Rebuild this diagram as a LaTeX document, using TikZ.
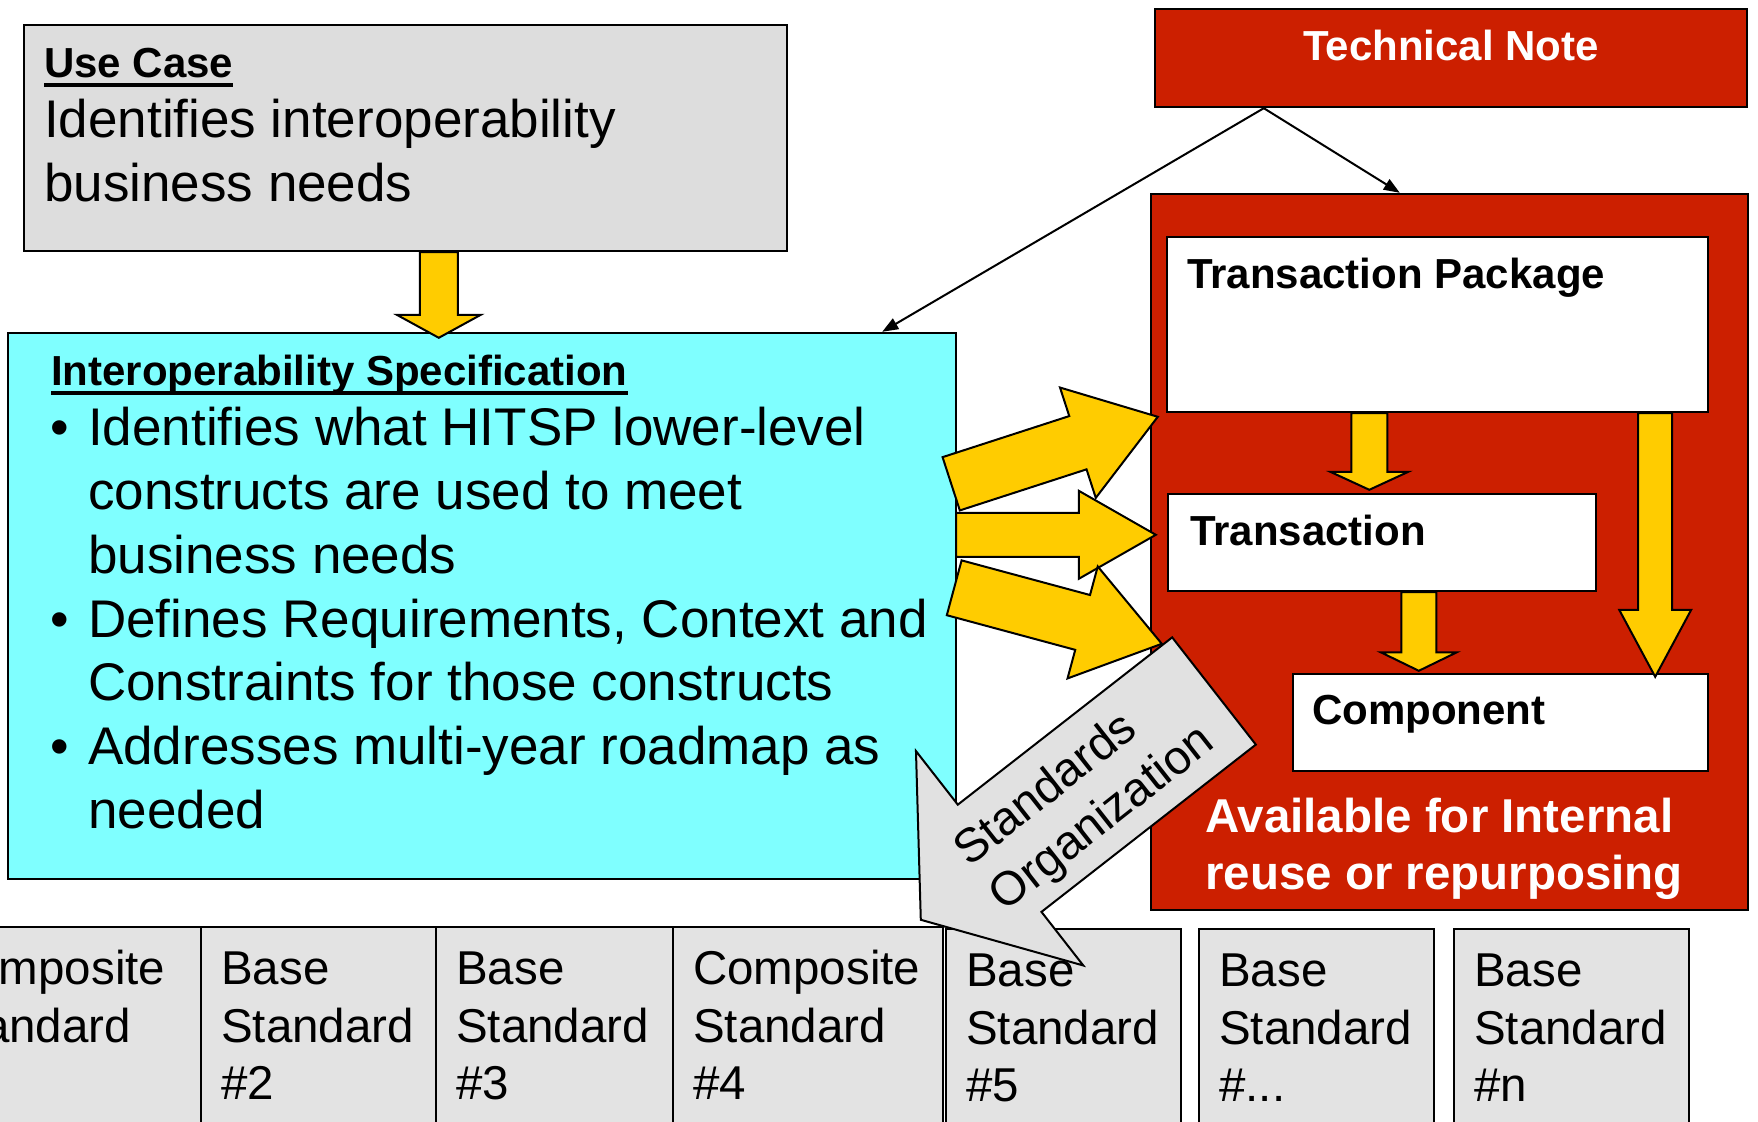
\documentclass[tikz,border=0pt]{standalone}
\usepackage{fontspec}
\setmainfont{Liberation Sans}
\usetikzlibrary{calc,fit,arrows.meta}

\definecolor{specCyan}{RGB}{127,255,255}
\definecolor{noteRed}{RGB}{204,31,0}
\definecolor{arrowYellow}{RGB}{255,204,0}
\definecolor{caseGray}{RGB}{221,221,221}
\definecolor{stdGray}{RGB}{227,227,227}
\definecolor{orgGray}{RGB}{225,225,225}

\newcommand{\txtbody}{\fontsize{26.5}{31.9}\selectfont}
\newcommand{\txthead}{\bfseries\fontsize{21}{25}\selectfont}
\newcommand{\txtstd}{\fontsize{23.75}{28.75}\selectfont}
\newcommand{\txtnote}{\bfseries\fontsize{23.75}{28.5}\selectfont}
\newsavebox{\uheadbox}
\newcommand{\uhead}[1]{\sbox{\uheadbox}{#1}\rlap{\rule[-4.5pt]{\wd\uheadbox}{1.9pt}}\usebox{\uheadbox}}
\newcommand{\bullitem}{\leavevmode\llap{•\hspace{9.5pt}}}
% lines hang from the baseline of the first one
\newcommand{\toplines}[1]{\begin{tabular}[t]{@{}l@{}}#1\end{tabular}}

\tikzset{%
  plain box/.style={draw, line width=1.2pt, inner sep=0pt},
  case box/.style={plain box, fill=caseGray},
  spec box/.style={plain box, fill=specCyan},
  note box/.style={plain box, fill=noteRed},
  white box/.style={plain box, fill=white},
  std box/.style={plain box, fill=stdGray},
  box text/.style={inner sep=0pt, anchor=base west},
  yellow arrow/.style={draw, fill=arrowYellow, line width=1pt, line join=miter},
  org arrow/.style={fill=orgGray},
  link/.style={->, line width=1pt},
}

% tail, tip, half shaft, half head, head length
\newcommand{\blockarrow}[6][]{%
  \coordinate (neck) at ($(#3)!#6!(#2)$);
  \draw[yellow arrow, #1] ($(#2)!#4!90:(#3)$) -- ($(neck)!#4!90:(#3)$)
    -- ($(neck)!#5!90:(#3)$) -- (#3) -- ($(neck)!#5!-90:(#3)$)
    -- ($(neck)!#4!-90:(#3)$) -- ($(#2)!#4!-90:(#3)$) -- cycle;
}

\begin{document}
\begin{tikzpicture}[x=0.5pt, y=-0.5pt, >={Triangle[length=8pt,width=6pt]}]
\useasboundingbox (0,0) rectangle (1758,1122);

% standards along the bottom
\foreach \n/\xa/\xb/\ya/\txt in {
  1/-82/201/927/{Composite\\Standard},
  2/201/436/927/{Base\\Standard\\\#2},
  3/436/673/927/{Base\\Standard\\\#3},
  4/673/943/927/{Composite\\Standard\\\#4},
  5/946/1181/929/{Base\\Standard\\\#5},
  6/1199/1434/929/{Base\\Standard\\\#...},
  7/1454/1689/929/{Base\\Standard\\\#n}}
{
  \node[std box, fit={(\xa,\ya) (\xb,1140)}] (std-\n) {};
  \node[box text, font=\txtstd] (std-\n-text) at ($(std-\n.north west)+(21,59)$) {\toplines{\txt}};
}

\node[case box, fit={(24,25) (787,251)}] (usecase) {};
\node[box text, font=\txthead] (usecase-title) at ($(usecase.north west)+(21,54)$) {\uhead{Use Case}};
\node[box text, font=\txtbody] (usecase-text) at ($(usecase.north west)+(21,114)$)
  {\toplines{Identifies interoperability\\business needs}};

\node[spec box, fit={(8,333) (956,879)}] (spec) {};
\node[box text, font=\txthead] (spec-title) at ($(spec.north west)+(44,54)$) {\uhead{Interoperability Specification}};
\node[box text, font=\txtbody] (spec-text) at ($(spec.north west)+(81,114)$)
  {\toplines{\bullitem Identifies what HITSP lower-level\\constructs are used to meet\\business needs\\
   \bullitem Defines Requirements, Context and\\Constraints for those constructs\\
   \bullitem Addresses multi-year roadmap as\\needed}};

\node[note box, fit={(1155,9) (1747,107)}] (technote) {};
\node[inner sep=0pt, anchor=base, font=\txthead, text=white] (technote-text) at ($(technote.north)+(0,53)$) {Technical Note};

\node[note box, fit={(1151,194) (1748,910)}] (reuse) {};
\node[white box, fit={(1167,237) (1708,412)}] (txpkg) {};
\node[white box, fit={(1168,494) (1596,591)}] (tx) {};
\node[white box, fit={(1293,674) (1708,771)}] (comp) {};
\node[box text, font=\txthead] (txpkg-text) at ($(txpkg.north west)+(21,53)$) {Transaction Package};
\node[box text, font=\txthead] (tx-text) at ($(tx.north west)+(23,53)$) {Transaction};
\node[box text, font=\txthead] (comp-text) at ($(comp.north west)+(20,52)$) {Component};
\node[box text, font=\txtnote, text=white] (reuse-text) at ($(reuse.south west)+(55,-79)$)
  {\toplines{Available for Internal\\reuse or repurposing}};

\coordinate (tn-fork) at ($(technote.south west)+(110,0)$);
\draw[link] (tn-fork) -- ($(spec.north east)+(-75,0)$);
\draw[link] (tn-fork) -- ($(reuse.north west)+(250,0)$);

\coordinate (a0-tail) at ($(usecase.south west)+(416,0)$);
\coordinate (a0-tip)  at ($(spec.north west)+(432,6)$);
\coordinate (a1-tail) at ($(txpkg.south west)+(203.5,0)$);
\coordinate (a1-tip)  at ($(tx.north west)+(202.5,-3)$);
\coordinate (a2-tail) at ($(tx.south west)+(252,0)$);
\coordinate (a2-tip)  at ($(comp.north west)+(127,-2)$);
\coordinate (a3-tail) at ($(txpkg.south east)+(-54,0)$);
\coordinate (a3-tip)  at ($(comp.north east)+(-54,4)$);
\coordinate (b1-tail) at ($(spec.north east)+(-6,152)$);
\coordinate (b1-tip)  at ($(reuse.north west)+(8,224)$);
\coordinate (b2-tail) at ($(spec.north east)+(-1,203)$);
\coordinate (b2-tip)  at ($(reuse.north west)+(6,342)$);
\coordinate (b3-tail) at ($(spec.north east)+(-3,256)$);
\coordinate (b3-tip)  at ($(reuse.north west)+(12,451)$);

\foreach \from/\to/\shaft/\head/\len in {
  a0-tail/a0-tip/9.5pt/21pt/11.5pt,
  a1-tail/a1-tip/9pt/19.5pt/9pt,
  a2-tail/a2-tip/8.75pt/19pt/9.25pt,
  a3-tail/a3-tip/8.5pt/18pt/33.5pt,
  b1-tail/b1-tip/14pt/29pt/42pt,
  b2-tail/b2-tip/11pt/22pt/38.5pt,
  b3-tail/b3-tip/14.2pt/29pt/41pt}
  {\blockarrow{\from}{\to}{\shaft}{\head}{\len}}

% standards organization callout
\coordinate (org-tail) at (1214,691);
\coordinate (org-tip) at ($(std-5.north west)+(-24,-8)$);
\blockarrow[org arrow]{org-tail}{org-tip}{34pt}{68pt}{50pt}
\node[font=\txtstd, align=left, rotate=38.2, inner sep=0pt] (org-text)
  at ($(org-tail)!0.5!(org-tip)+(18,-8)$) {Standards\\Organization};

\end{tikzpicture}
\end{document}
